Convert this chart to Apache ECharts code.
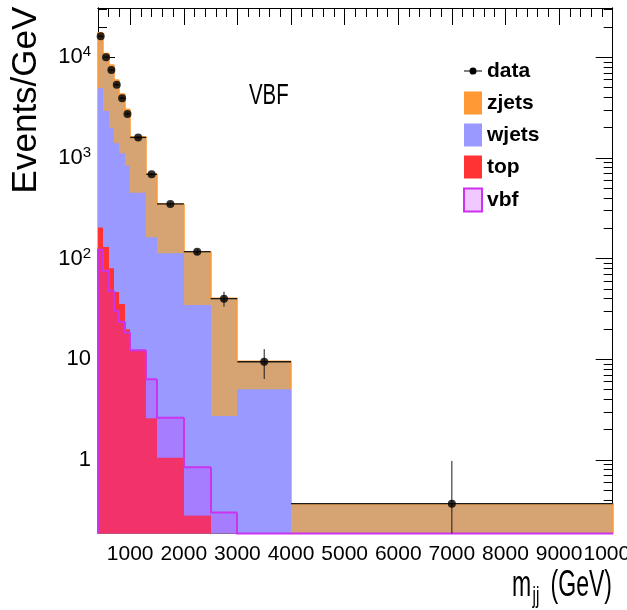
<!DOCTYPE html>
<html>
<head>
<meta charset="utf-8">
<script src="https://cdn.jsdelivr.net/npm/echarts@6.0.0/dist/echarts.min.js"></script>
<style>
  html, body { margin: 0; padding: 0; background: #ffffff; }
  #chart { width: 627px; height: 610px; }
</style>
</head>
<body>
<div id="chart"></div>
<script>
// m_jj binning (GeV) and per-bin contents in Events/GeV
const binEdges = [400, 500, 600, 700, 800, 900, 1000, 1300, 1500, 2000, 2500, 3000, 4000, 10000];
const zjets  = [12600, 7980, 6370, 4540, 3200, 2200, 1170, 529, 236, 82.4, 37.6, 4.51, 0.368];
const wjets  = [4710, 2790, 1915, 1350, 1077, 817, 439, 160, 112, 34.3, 2.73, 5.04, 0];
const topBkg = [203, 130, 80.1, 46.6, 35.4, 19.9, 12.1, 2.59, 1.05, 0.28, 0, 0, 0];
const vbf    = [122, 75.8, 48.0, 30.4, 23.6, 18.4, 12.3, 6.33, 2.63, 0.846, 0.30, 0, 0];
const dataVals    = [16100, 10000, 7460, 5340, 3910, 2730, 1595, 687, 349, 117, 40.0, 9.45, 0.368];
const dataErrUp   = [300, 230, 190, 160, 130, 100, 40, 20, 12, 7, 6.9, 3.15, 0.61];
const dataErrDown = [300, 230, 190, 160, 130, 100, 40, 20, 12, 7, 6.7, 3.08, 0.34];

// axis ranges and tick labels
const xMin = 400, xMax = 10000;
const yMin = 0.186, yMax = 30800;
const xTickValues = [1000, 2000, 3000, 4000, 5000, 6000, 7000, 8000, 9000, 10000];
const yTickValues = [1, 10, 100, 1000, 10000];
const yTickLabels = ['1', '10', '10^2', '10^3', '10^4'];

const xMinorTicks = [];
for (let v = 600; v < xMax; v += 200) if (v % 1000 !== 0) xMinorTicks.push(v);
const yMinorTicks = [];
for (let d = -1; d <= 4; d++) {
  for (let k = 2; k <= 9; k++) {
    const v = k * Math.pow(10, d);
    if (v >= yMin && v <= yMax) yMinorTicks.push(v);
  }
}

// stacked totals: top at the bottom, then wjets, then zjets
const stackW = wjets.map((w, i) => w + topBkg[i]);
const stackZ = zjets.map((z, i) => z + stackW[i]);

const FONT = 'Liberation Sans, Arial, sans-serif';
const NARROW = 'Liberation Sans Narrow, Liberation Sans, Arial, sans-serif';

// translucent magenta used for the vbf overlay
const vbfFill = 'rgba(204, 51, 255, 0.27)';
const vbfLine = '#cc33ee';
const clampY = v => Math.max(v, yMin);

// filled step histogram drawn bin by bin from the axis floor
function stepHist(name, values, fill, stroke, strokeWidth, z) {
  return {
    type: 'custom',
    name: name,
    z: z,
    xAxisIndex: 0,
    yAxisIndex: 0,
    itemStyle: { color: fill },
    data: values.map((v, i) => [binEdges[i], binEdges[i + 1], clampY(v)]),
    encode: { x: [0, 1], y: 2 },
    renderItem: function (params, api) {
      const i = params.dataIndex;
      const v = api.value(2);
      const pTL = api.coord([api.value(0), v]);
      const pBR = api.coord([api.value(1), yMin]);
      const xl = Math.round(pTL[0]), xr = Math.round(pBR[0]);
      const children = [{
        type: 'rect',
        shape: { x: xl, y: pTL[1], width: xr - xl, height: pBR[1] - pTL[1] },
        style: { fill: fill, stroke: 'none' }
      }];
      if (stroke) {
        const prev = i > 0 ? clampY(values[i - 1]) : yMin;
        const pPrev = api.coord([api.value(0), prev]);
        const pts = [[xl, pPrev[1]], [xl, pTL[1]], [xr, pTL[1]]];
        if (i === values.length - 1) pts.push([xr, pBR[1]]);
        children.push({
          type: 'polyline', z2: 10,
          shape: { points: pts },
          style: { stroke: stroke, lineWidth: strokeWidth, fill: 'none' }
        });
      }
      return { type: 'group', children: children };
    }
  };
}

const binCenters = binEdges.slice(0, -1).map((e, i) => (e + binEdges[i + 1]) / 2);

const dataErrors = {
  type: 'custom',
  name: 'data',
  z: 6,
  xAxisIndex: 0,
  yAxisIndex: 0,
  itemStyle: { color: '#000' },
  data: dataVals.map((v, i) => [binEdges[i], binEdges[i + 1], v,
                                clampY(v - dataErrDown[i]), v + dataErrUp[i]]),
  encode: { x: [0, 1], y: 2 },
  renderItem: function (params, api) {
    const x0 = api.value(0), x1 = api.value(1), v = api.value(2);
    const xc = (x0 + x1) / 2;
    const a = api.coord([x0, v]), b = api.coord([x1, v]);
    const hi = api.coord([xc, api.value(4)]), lo = api.coord([xc, api.value(3)]);
    return {
      type: 'group',
      children: [
        { type: 'line', shape: { x1: a[0], y1: a[1], x2: b[0], y2: b[1] },
          style: { stroke: '#1a1a1a', lineWidth: 1.3, fill: 'none' } },
        { type: 'line', shape: { x1: hi[0], y1: hi[1], x2: lo[0], y2: lo[1] },
          style: { stroke: '#1a1a1a', lineWidth: 1, fill: 'none' } }
      ]
    };
  }
};

const dataPoints = {
  type: 'scatter',
  name: 'data',
  z: 7,
  symbol: 'circle',
  symbolSize: 8,
  itemStyle: { color: '#000' },
  data: binCenters.map((c, i) => [c, dataVals[i]]),
  silent: true
};

const frame = { show: true, lineStyle: { color: '#000', width: 1 } };
function tickAxisX(pos, values, len) {
  return {
    type: 'value', position: pos, min: xMin, max: xMax,
    axisLine: frame, splitLine: { show: false },
    axisLabel: { show: false },
    axisTick: { show: true, inside: true, length: len, customValues: values,
                lineStyle: { color: '#000', width: 1 } }
  };
}
function tickAxisY(pos, values, len) {
  return {
    type: 'log', logBase: 10, position: pos, min: yMin, max: yMax,
    axisLine: frame, splitLine: { show: false },
    axisLabel: { show: false },
    axisTick: { show: true, inside: true, length: len, customValues: values,
                lineStyle: { color: '#000', width: 1 } }
  };
}

const xMain = tickAxisX('bottom', xTickValues, 17);
xMain.axisLabel = {
  show: true, customValues: xTickValues, margin: 10,
  showMinLabel: true, showMaxLabel: true, hideOverlap: false,
  fontFamily: FONT, fontSize: 21, color: '#000',
  formatter: v => String(Math.round(v))
};
const yMain = tickAxisY('left', yTickValues, 17);
yMain.axisLabel = {
  show: true, customValues: yTickValues, margin: 7,
  fontFamily: FONT, fontSize: 22, color: '#000',
  formatter: function (v) {
    const idx = yTickValues.findIndex(t => Math.abs(t - v) / t < 1e-6);
    const lbl = idx >= 0 ? yTickLabels[idx] : '';
    const parts = lbl.split('^');
    return parts.length === 2 ? '{b|' + parts[0] + '}{s|' + parts[1] + '}' : '{b|' + lbl + '}';
  },
  rich: {
    b: { fontFamily: FONT, fontSize: 22, color: '#000' },
    s: { fontFamily: FONT, fontSize: 15, color: '#000', verticalAlign: 'top', padding: [0, 0, 10, 0] }
  }
};

const option = {
  animation: false,
  backgroundColor: '#ffffff',
  grid: { left: 98, top: 8, width: 514.7, height: 525.5, containLabel: false, outerBoundsMode: 'none' },
  xAxis: [
    xMain,
    tickAxisX('top', xTickValues, 17),
    tickAxisX('top', xMinorTicks, 9)
  ],
  yAxis: [
    yMain,
    tickAxisY('left', yMinorTicks, 9),
    tickAxisY('right', yTickValues, 17),
    tickAxisY('right', yMinorTicks, 9)
  ],
  legend: {
    orient: 'vertical', left: 458, top: 54.5,
    itemWidth: 18, itemHeight: 23, itemGap: 9, itemTextGap: 3,
    selectedMode: false,
    textStyle: { fontFamily: NARROW, fontWeight: 'bold', fontSize: 21, color: '#000' },
    data: [
      { name: 'data', icon: 'path://M0,0 L0.01,0 Z M18,23 L17.99,23 Z M0,11 H18 V12 H0 Z M12.5,11.5 A3.5,3.5 0 1,1 12.49,11.3 Z',
        itemStyle: { color: '#000' } },
      { name: 'zjets', icon: 'rect', itemStyle: { color: '#ff9933' } },
      { name: 'wjets', icon: 'rect', itemStyle: { color: '#9999ff' } },
      { name: 'top',   icon: 'rect', itemStyle: { color: '#ff3333' } },
      { name: 'vbf',   icon: 'rect', itemStyle: { color: vbfFill, borderColor: vbfLine, borderWidth: 2 } }
    ]
  },
  graphic: [
    { type: 'text', x: 249, y: 111, scaleX: 0.68,
      style: { text: 'VBF', font: '30px ' + FONT, fill: '#000', textAlign: 'left', textVerticalAlign: 'bottom' } },
    { type: 'text', x: 26, y: 100, rotation: Math.PI / 2,
      style: { text: 'Events/GeV', font: '35px ' + FONT, fill: '#000', textAlign: 'center', textVerticalAlign: 'middle' } },
    { type: 'text', x: 512, y: 604, scaleX: 0.64,
      style: { text: 'm', font: '36px ' + FONT, fill: '#000', textAlign: 'left', textVerticalAlign: 'bottom' } },
    { type: 'text', x: 532.5, y: 608, scaleX: 0.64,
      style: { text: 'jj', font: '24px ' + FONT, fill: '#000', textAlign: 'left', textVerticalAlign: 'bottom' } },
    { type: 'text', x: 612, y: 604, scaleX: 0.64,
      style: { text: '(GeV)', font: '36px ' + FONT, fill: '#000', textAlign: 'right', textVerticalAlign: 'bottom' } }
  ],
  series: [
    stepHist('zjets', stackZ, '#d5a472', '#ff9933', 1.5, 2),
    stepHist('wjets', stackW, '#9999ff', null, 0, 3),
    stepHist('top', topBkg, '#ff3333', null, 0, 4),
    stepHist('vbf', vbf, vbfFill, vbfLine, 2, 5),
    dataErrors,
    dataPoints
  ]
};

const chart = echarts.init(document.getElementById('chart'), null, { renderer: 'canvas' });
chart.setOption(option);
</script>
</body>
</html>
